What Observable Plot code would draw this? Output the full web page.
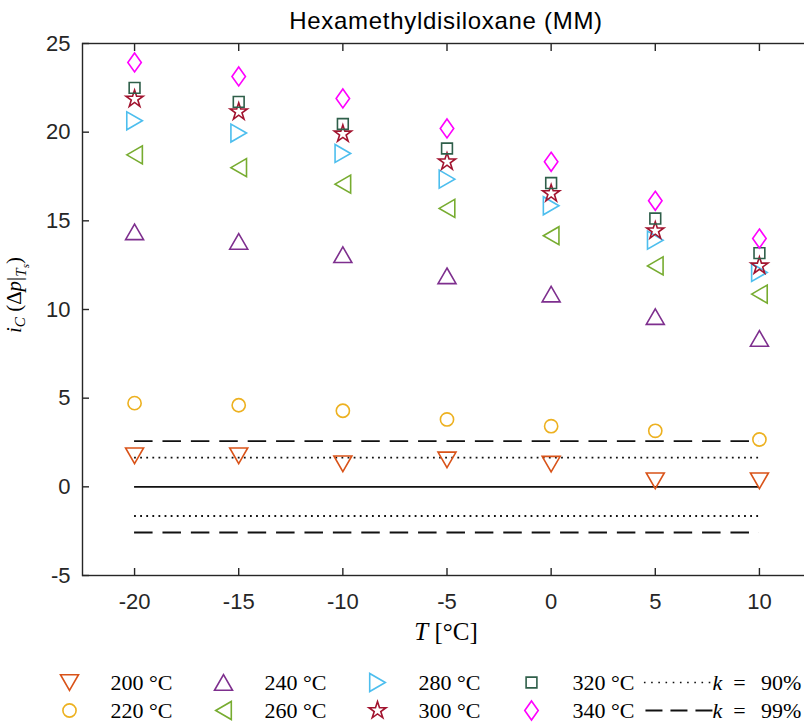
<!DOCTYPE html>
<html>
<head>
<meta charset="utf-8">
<script src="https://cdn.jsdelivr.net/npm/d3@7"></script>
<script src="https://cdn.jsdelivr.net/npm/@observablehq/plot@0.6"></script>
<style>
  html, body { margin: 0; padding: 0; background: #fff; overflow: hidden; width: 804px; height: 722px; }
  #wrap { position: relative; width: 804px; height: 722px; overflow: hidden; }
  #wrap svg { display: block; max-width: none !important; }
  #title { position: absolute; left: 0; top: 9px; width: 892px; text-align: center;
           font-family: "Liberation Sans", Arial, sans-serif; font-size: 24px; line-height: 24px;
           letter-spacing: 0.7px; color: #000; }
</style>
</head>
<body>
<div id="wrap"><div id="title">Hexamethyldisiloxane (MM)</div></div>
<script>
// ---------------- data ----------------
const T = [-20, -15, -10, -5, 0, 5, 10];
const s200 = [1.75, 1.75, 1.30, 1.52, 1.28, 0.34, 0.34];
const s220 = [4.72, 4.60, 4.29, 3.80, 3.42, 3.16, 2.67];
const s240 = [14.38, 13.84, 13.09, 11.90, 10.87, 9.60, 8.37];
const s260 = [18.72, 18.00, 17.07, 15.70, 14.16, 12.46, 10.87];
const s280 = [20.64, 19.95, 18.80, 17.35, 15.85, 13.91, 12.09];
const s300 = [21.87, 21.15, 19.90, 18.33, 16.54, 14.44, 12.46];
const s320 = [22.50, 21.71, 20.46, 19.08, 17.13, 15.13, 13.18];
const s340 = [23.93, 23.14, 21.90, 20.21, 18.33, 16.13, 14.00];
const seriesNames = ["200 °C", "220 °C", "240 °C", "260 °C", "280 °C", "300 °C", "320 °C", "340 °C"];
const seriesValues = [s200, s220, s240, s260, s280, s300, s320, s340];
const zeroLevel = [0];
const k90 = [1.645, -1.645];
const k99 = [2.576, -2.576];
const kLabels = ["k = 90%", "k = 99%"];
const xTicks = [-20, -15, -10, -5, 0, 5, 10];
const yTicks = [-5, 0, 5, 10, 15, 20, 25];

// ---------------- marker shapes ----------------
const rad = (size) => Math.sqrt(size / Math.PI);
const triUp = { draw(c, s) { const R = rad(s), h = 0.866 * R; c.moveTo(0, -h); c.lineTo(R, h); c.lineTo(-R, h); c.closePath(); } };
const triDown = { draw(c, s) { const R = rad(s), h = 0.866 * R; c.moveTo(0, h); c.lineTo(R, -h); c.lineTo(-R, -h); c.closePath(); } };
const triRight = { draw(c, s) { const R = rad(s), h = 0.866 * R; c.moveTo(h, 0); c.lineTo(-h, -R); c.lineTo(-h, R); c.closePath(); } };
const triLeft = { draw(c, s) { const R = rad(s), h = 0.866 * R; c.moveTo(-h, 0); c.lineTo(h, -R); c.lineTo(h, R); c.closePath(); } };
const square = { draw(c, s) { const R = rad(s); c.moveTo(-R, -R); c.lineTo(R, -R); c.lineTo(R, R); c.lineTo(-R, R); c.closePath(); } };
const diamond = { draw(c, s) { const R = rad(s), w = 0.71 * R; c.moveTo(0, -R); c.lineTo(w, 0); c.lineTo(0, R); c.lineTo(-w, 0); c.closePath(); } };
const star = { draw(c, s) { const R = rad(s), r = 0.382 * R;
  for (let i = 0; i < 10; i++) { const a = -Math.PI / 2 + i * Math.PI / 5, q = i % 2 ? r : R;
    const px = q * Math.cos(a), py = q * Math.sin(a); i ? c.lineTo(px, py) : c.moveTo(px, py); }
  c.closePath(); } };

const styles = [
  { symbol: triDown,  r: 9,   color: "#D95319" },
  { symbol: "circle", r: 6.6, color: "#EDB120" },
  { symbol: triUp,    r: 9,   color: "#7E2F8E" },
  { symbol: triLeft,  r: 9,   color: "#77AC30" },
  { symbol: triRight, r: 9,   color: "#4DBEEE" },
  { symbol: star,     r: 9,   color: "#A2142F" },
  { symbol: square,   r: 5.4, color: "#2F5F4A" },
  { symbol: diamond,  r: 9.5, color: "#FF00FF" }
];

const axisColor = "#262626";
const lineColor = "#111";
const dotted = "1.8,4.3";
const dashed = "18.5,9.9";
const fmt = d => String(d);

const seriesMarks = seriesValues.map((vals, i) =>
  Plot.dot(T.map((t, j) => ({ T: t, v: vals[j] })), {
    x: "T", y: "v", symbol: styles[i].symbol, r: styles[i].r,
    stroke: styles[i].color, strokeWidth: 1.6, fill: "none"
  })
);

const xMin = d3.min(T), xMax = d3.max(T);

const main = Plot.plot({
  width: 812, height: 655,
  marginLeft: 82, marginRight: 1, marginTop: 43, marginBottom: 80,
  x: { domain: [-22.5, 12.5] },
  y: { domain: [-5, 25] },
  style: { fontFamily: "'Liberation Sans', Arial, sans-serif", background: "transparent", color: axisColor, maxWidth: "none" },
  marks: [
    Plot.ruleY(zeroLevel, { y: d => d, x1: xMin, x2: xMax, stroke: lineColor, strokeWidth: 1.7 }),
    Plot.ruleY(k90, { y: d => d, x1: xMin, x2: xMax, stroke: lineColor, strokeWidth: 1.8, strokeDasharray: dotted }),
    Plot.ruleY(k99, { y: d => d, x1: xMin, x2: xMax, stroke: lineColor, strokeWidth: 1.8, strokeDasharray: dashed }),
    ...seriesMarks,
    Plot.frame({ stroke: axisColor, strokeWidth: 1.4 }),
    Plot.axisX(xTicks, { anchor: "bottom", tickSize: 0, tickPadding: 18, fontSize: 22, label: null, color: axisColor, tickFormat: fmt }),
    Plot.axisX(xTicks, { anchor: "bottom", tickSize: -7, tickFormat: () => "", label: null, strokeWidth: 1.4, color: axisColor }),
    Plot.axisX(xTicks, { anchor: "top", tickSize: -7, tickFormat: () => "", label: null, strokeWidth: 1.4, color: axisColor }),
    Plot.axisY(yTicks, { anchor: "left", tickSize: 0, tickPadding: 12, fontSize: 22, label: null, color: axisColor, tickFormat: fmt }),
    Plot.axisY(yTicks, { anchor: "left", tickSize: -7, tickFormat: () => "", label: null, strokeWidth: 1.4, color: axisColor }),
    Plot.axisY(yTicks, { anchor: "right", tickSize: -7, tickFormat: () => "", label: null, strokeWidth: 1.4, color: axisColor })
  ]
});

// axis titles with math-style italics
const svgM = d3.select(main);
const serif = "'Liberation Serif', 'Times New Roman', serif";
const xl = svgM.append("text").attr("x", 446).attr("y", 640).attr("text-anchor", "middle")
  .attr("font-family", serif).attr("font-size", 25).attr("fill", "#000");
xl.append("tspan").attr("font-style", "italic").text("T");
xl.append("tspan").text(" [°C]");

const yl = svgM.append("text").attr("transform", "translate(21,295) rotate(-90)").attr("text-anchor", "middle")
  .attr("font-family", serif).attr("font-size", 21).attr("fill", "#000");
yl.append("tspan").attr("font-style", "italic").text("i");
yl.append("tspan").attr("font-style", "italic").attr("font-size", 15).attr("dy", 4).text("C");
yl.append("tspan").attr("dy", -4).text(" (Δ");
yl.append("tspan").attr("font-style", "italic").text("p");
yl.append("tspan").text("|");
yl.append("tspan").attr("font-style", "italic").attr("font-size", 15).attr("dy", 5).text("T");
yl.append("tspan").attr("font-style", "italic").attr("font-size", 11).attr("dy", 3).text("s");
yl.append("tspan").attr("dy", -8).text(")");

// ---------------- legend ----------------
const legendItems = seriesNames.map((name, i) => ({ name, col: Math.floor(i / 2), row: i % 2 }));
const kItems = kLabels.map((label, i) => ({ label, col: 4, row: i }));

const legend = Plot.plot({
  width: 804, height: 67, margin: 0,
  x: { domain: [0, 4], range: [69, 685], axis: null },
  y: { domain: [0, 1], range: [27, 55], axis: null },
  style: { background: "transparent", maxWidth: "none" },
  marks: [
    ...legendItems.map((d, i) => Plot.dot([d], {
      x: "col", y: "row", symbol: styles[i].symbol, r: styles[i].r,
      stroke: styles[i].color, strokeWidth: 1.6, fill: "none"
    })),
    Plot.text(legendItems, { x: "col", y: "row", text: "name", dx: 41, textAnchor: "start",
      fontSize: 22, fontFamily: serif, fill: "#000" }),
    Plot.link([kItems[0]], { x1: d => d.col - 0.27, x2: d => d.col + 0.175, y1: "row", y2: "row",
      stroke: lineColor, strokeWidth: 1.6, strokeDasharray: "1.6,5.6" }),
    Plot.link([kItems[1]], { x1: d => d.col - 0.26, x2: d => d.col + 0.175, y1: "row", y2: "row",
      stroke: lineColor, strokeWidth: 1.8, strokeDasharray: "17,8" }),
    Plot.text(kItems, { x: "col", y: "row", text: "label", dx: 27, textAnchor: "start",
      fontSize: 22, fontFamily: serif, fill: "#000" })
  ]
});

d3.select(legend).selectAll("text").each(function () {
  const t = this.textContent;
  if (t.startsWith("k")) {
    const m = t.match(/^k\s*=\s*(.*)$/);
    this.textContent = "";
    const s = d3.select(this);
    s.append("tspan").attr("font-style", "italic").text("k");
    s.append("tspan").text("\u2002=\u2002\u2009" + m[1]);
  }
});

const wrap = document.getElementById("wrap");
wrap.insertBefore(legend, wrap.firstChild);
wrap.insertBefore(main, wrap.firstChild);
</script>
</body>
</html>
